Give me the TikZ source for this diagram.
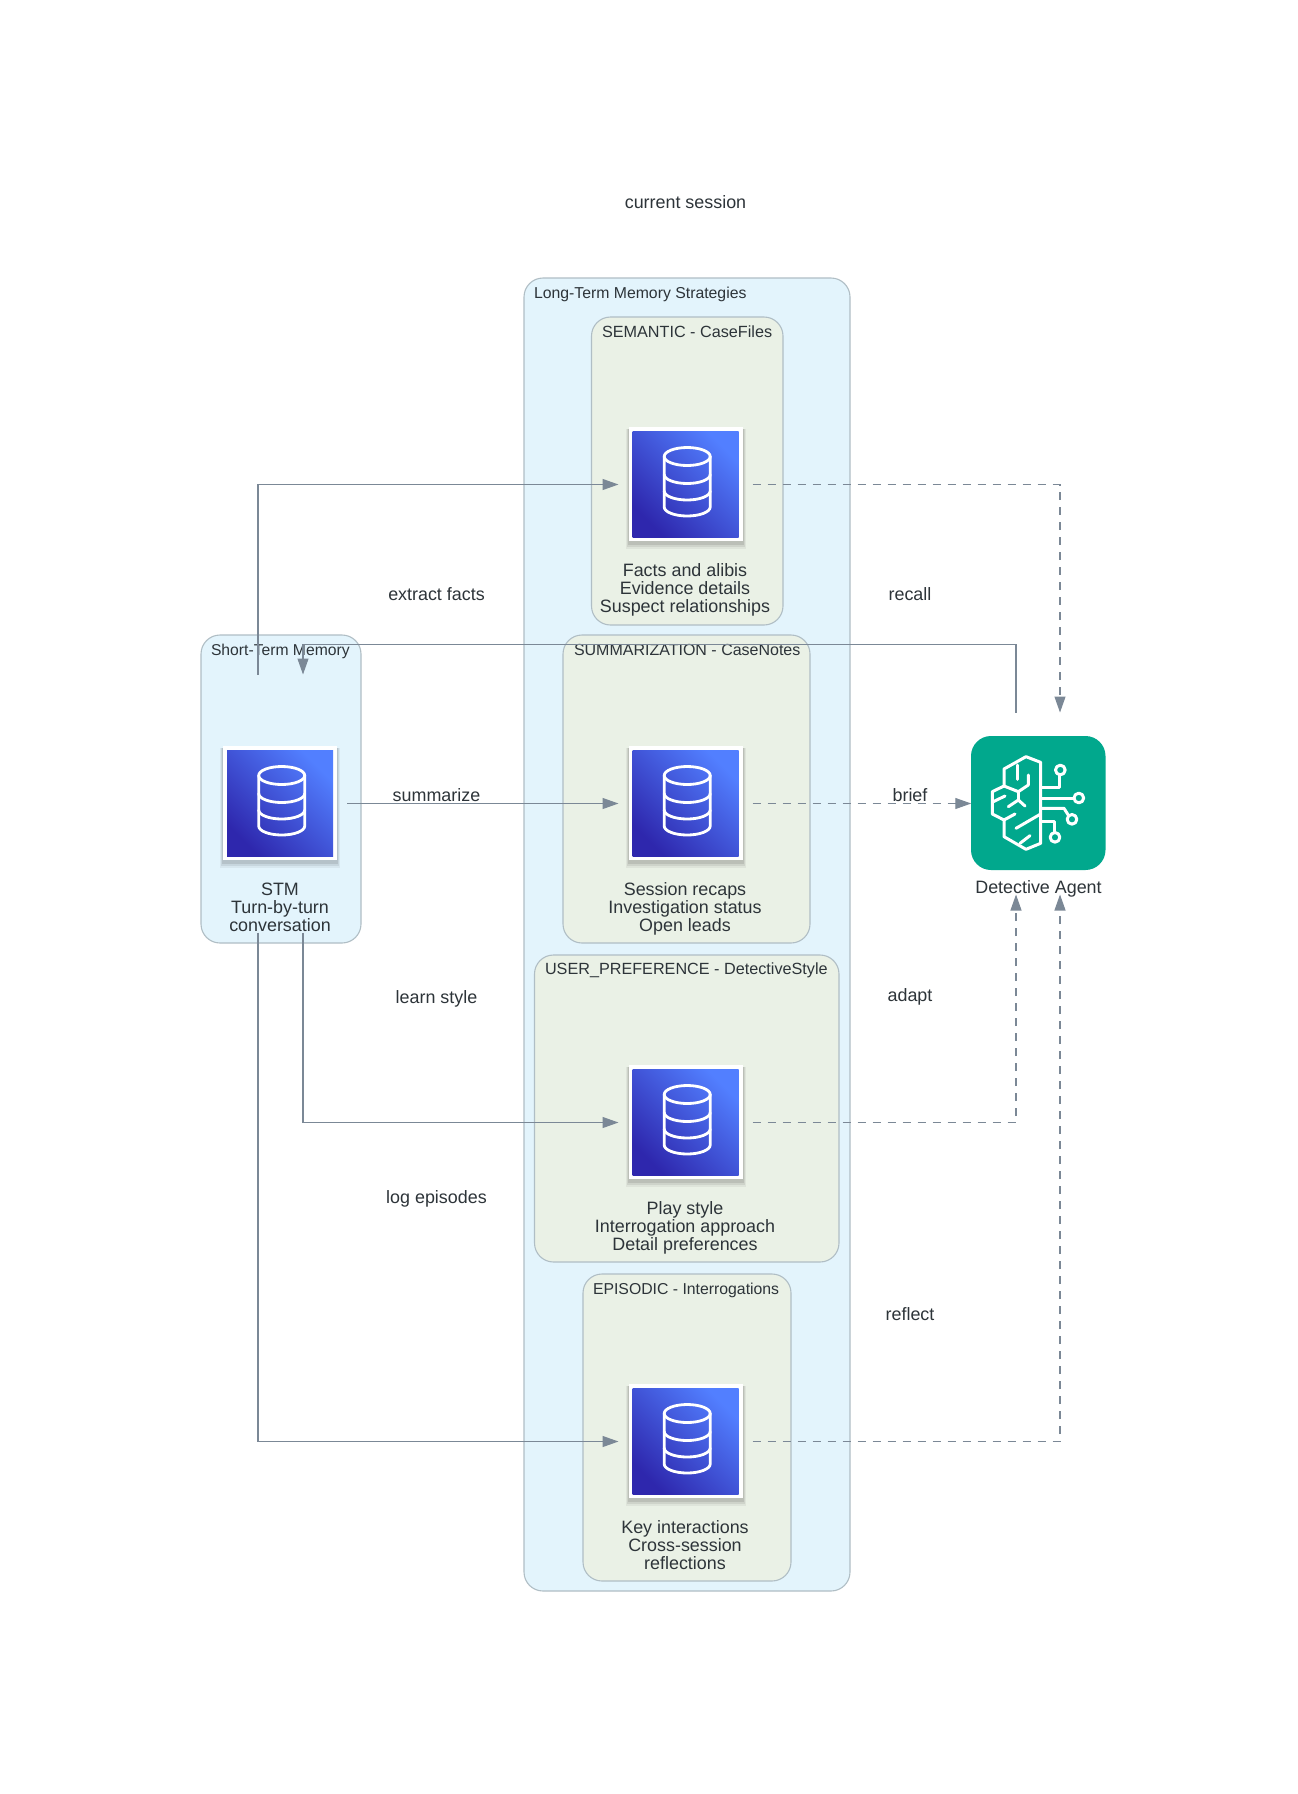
\documentclass[tikz,border=0pt]{standalone}
\usepackage{fontspec}
\setmainfont{Liberation Sans}
\usetikzlibrary{arrows.meta,calc}
\definecolor{cLine}{HTML}{7B8896}
\definecolor{cBorder}{HTML}{B0BEC5}
\definecolor{cBlue}{HTML}{E3F4FC}
\definecolor{cGreen}{HTML}{EAF1E6}
\definecolor{cText}{HTML}{2D3439}
\definecolor{cDark}{HTML}{2E27AD}
\definecolor{cLight}{HTML}{527FFF}
\definecolor{cAgent}{HTML}{01A88D}
\tikzset{
  x=1pt,y=-1pt,
  every node/.style={text=cText,font=\fontsize{17.9}{18}\selectfont,inner sep=0pt,outer sep=0pt},
  cluster/.style={draw=cBorder,line width=1.1pt,rounded corners=19pt},
  ctitle/.style={anchor=base west,font=\fontsize{#1}{18}\selectfont},
  gnode/.style={minimum width=134pt,minimum height=258pt},
  lbl/.style={anchor=base},
  nodetext/.style={align=center,anchor=base},
  conn/.style={draw=cLine,line width=1.15pt,-{Triangle[length=16pt,width=11pt]}},
  dconn/.style={conn,dash pattern=on 8pt off 7pt},
  dbline/.style={draw=white,line width=2.8pt,line cap=round,line join=round},
  brain/.style={draw=white,line width=3pt,line join=round,line cap=round},
}
\newcommand{\dbicon}[1]{%
  \begin{scope}[shift={(#1)}]
    \foreach \k/\o in {6/.05,4/.07,2/.09}{\fill[black,opacity=\o] (-57-\k/2,-57+2) rectangle (57+\k/2,57+2+\k);}
    \fill[white] (-57,-57) rectangle (57,57);
    \shade[shading=axis,left color=cDark,right color=cLight,shading angle=135] (-53,-53) rectangle (53,53);
    \begin{scope}[xshift=1.7pt]
    \draw[dbline] (-23,-27.5) arc[start angle=180,end angle=540,x radius=23,y radius=-9];
    \draw[dbline] (-23,-27.5) -- (-23,23) arc[start angle=180,end angle=360,x radius=23,y radius=-9] -- (23,-27.5);
    \draw[dbline] (-23,-9.5) arc[start angle=180,end angle=360,x radius=23,y radius=-9];
    \draw[dbline] (-23,7) arc[start angle=180,end angle=360,x radius=23,y radius=-9];
    \end{scope}
  \end{scope}}
\begin{document}
\begin{tikzpicture}
\useasboundingbox (0,0) rectangle (1298,1794);
\fill[white] (0,0) rectangle (1298,1794);
% clusters
\draw[cluster,fill=cBlue] (524,278) rectangle (850,1591);
\draw[cluster,fill=cBlue] (201,635) rectangle (361,943);
\draw[cluster,fill=cGreen] (591.5,317) rectangle (783,625);
\draw[cluster,fill=cGreen] (563,635) rectangle (810,943);
\draw[cluster,fill=cGreen] (534.5,955) rectangle (839,1262);
\draw[cluster,fill=cGreen] (583,1274) rectangle (791,1581);
\node[ctitle=15.8] (tLtm) at (534,298) {Long-Term Memory Strategies};
\node[ctitle=15.7] (tStm) at (211,655) {Short-Term Memory};
\node[ctitle=16.2] (tSem) at (602,337) {SEMANTIC - CaseFiles};
\node[ctitle=16] (tSum) at (574,655) {SUMMARIZATION - CaseNotes};
\node[ctitle=16.2] (tPre) at (545,974) {USER\_PREFERENCE - DetectiveStyle};
\node[ctitle=15.8] (tEpi) at (593,1294) {EPISODIC - Interrogations};
% icons
\dbicon{685.5,484}
\dbicon{685.5,803}
\dbicon{685.5,1122}
\dbicon{685.5,1441}
\dbicon{280,803}
% node boxes (for routing)
\node[gnode] (sem) at (685.5,484.5) {};
\node[gnode] (sum) at (685.5,803.5) {};
\node[gnode] (pre) at (685.5,1122.5) {};
\node[gnode] (epi) at (685.5,1441.5) {};
\node[gnode] (stm) at (280,803.5) {};
\node[minimum width=134.5pt,minimum height=182pt] (agent) at (1038.5,803.5) {};
\coordinate (topbend) at (660,644.5);
% node texts
\node[nodetext] (lSem) at (685,612) {Facts and alibis\\Evidence details\\Suspect relationships};
\node[nodetext] (lSum) at (685,931) {Session recaps\\Investigation status\\Open leads};
\node[nodetext] (lPre) at (685,1250) {Play style\\Interrogation approach\\Detail preferences};
\node[nodetext] (lEpi) at (685,1569) {Key interactions\\Cross-session\\reflections};
\node[nodetext] (lStm) at (280,931) {STM\\Turn-by-turn\\conversation};
\node[nodetext] (lAg) at (1038.5,893) {Detective Agent};
% agent icon
\fill[cAgent,rounded corners=20pt] (971,736) rectangle (1105.5,870);
\begin{scope}[shift={(940,700)},x=0.3333pt,y=-0.3333pt]
\draw[brain] (258,170)--(302,187)--(302,430)--(258,448)--(192,410)--(192,360)--(157,342)--(157,275)--(192,258)--(192,207)--cycle;
\draw[brain] (232,195)--(232,238);
\draw[brain] (265,225)--(265,255)--(235,275)--(192,258);
\draw[brain] (235,275)--(235,298);
\draw[brain] (205,320)--(235,300)--(255,318);
\draw[brain] (160,305)--(195,288);
\draw[brain] (192,360)--(225,342);
\draw[brain] (228,385)--(302,342);
\draw[brain] (240,430)--(270,407);
\draw[brain] (302,262)--(360,262)--(360,224.5);
\draw[brain] (361,210) circle[radius=14.5];
\draw[brain] (302,295)--(402,295);
\draw[brain] (416.5,294) circle[radius=14.5];
\draw[brain] (302,325)--(372,325)--(386,347);
\draw[brain] (396,358) circle[radius=14.5];
\draw[brain] (302,365)--(345,365)--(345,397);
\draw[brain] (345,412) circle[radius=14.5];
\end{scope}
% connectors
\draw[conn] ([xshift=-22pt]stm.north) |- (sem.west);
\draw[conn] (stm.east) -- (sum.west);
\draw[conn] ([xshift=23pt]stm.south) |- (pre.west);
\draw[conn] ([xshift=-22pt]stm.south) |- (epi.west);
\draw[dconn] (sem.east) -| ([xshift=21.5pt]agent.north);
\draw[dconn] (sum.east) -- (agent.west);
\draw[dconn] (pre.east) -| ([xshift=-22.5pt]agent.south);
\draw[dconn] (epi.east) -| ([xshift=21.5pt]agent.south);
\draw[conn] ([xshift=-22.5pt]agent.north) |- (topbend) -| ([xshift=23pt]stm.north);
% labels
\node[lbl] (a) at (685.5,208) {current session};
\node[lbl] (b) at (436.5,600) {extract facts};
\node[lbl] (c) at (436.5,801) {summarize};
\node[lbl] (d) at (436.5,1003) {learn style};
\node[lbl] (e) at (436.5,1203) {log episodes};
\node[lbl] (f) at (910,600) {recall};
\node[lbl] (g) at (910,801) {brief};
\node[lbl] (h) at (910,1001) {adapt};
\node[lbl] (i) at (910,1320) {reflect};
\end{tikzpicture}
\end{document}
